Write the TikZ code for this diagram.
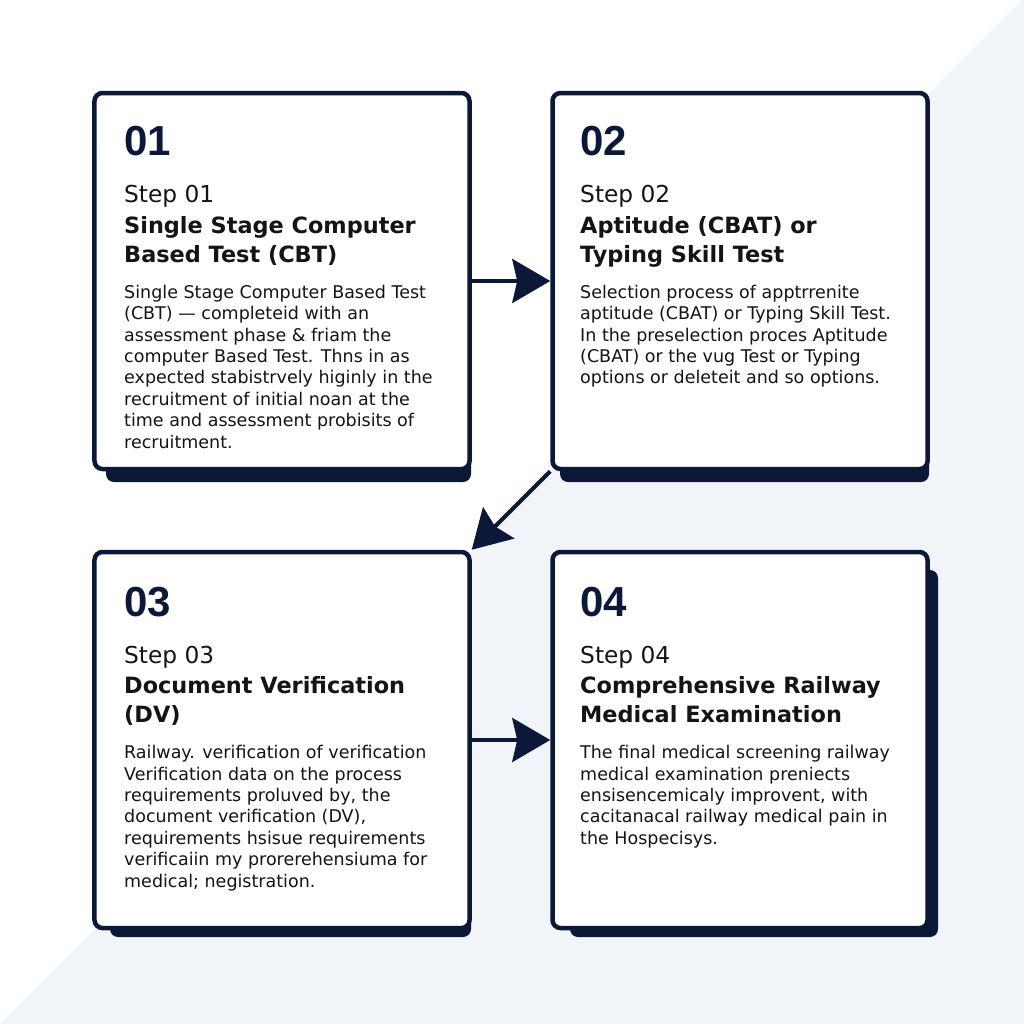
\documentclass[tikz,border=0pt]{standalone}
\usepackage{fontspec}
\setmainfont{DejaVu Sans}
\newfontfamily\numfont{Liberation Sans}
\usetikzlibrary{arrows.meta}

\definecolor{navy}{HTML}{0C1838}
\definecolor{ink}{HTML}{141414}
\definecolor{paleblue}{HTML}{F1F5FA}

\tikzset{
	card/.style={draw=navy, line width=4.5bp, fill=white, rounded corners=8bp, minimum width=375bp, minimum height=376bp, inner sep=0pt},
	cardshadow/.style={fill=navy, rounded corners=8bp},
	num/.style={anchor=base west, inner sep=0pt, text=navy, font=\numfont\bfseries\fontsize{42bp}{42bp}\selectfont},
	steplabel/.style={anchor=base west, inner sep=0pt, text=ink, font=\fontsize{23.3bp}{28bp}\selectfont},
	cardtitle/.style={anchor=north west, inner sep=0pt, align=left, text=ink, font=\bfseries\fontsize{22.4bp}{29bp}\selectfont},
	cardbody/.style={anchor=north west, inner sep=0pt, align=left, text=ink, font=\fontsize{17.5bp}{21.4bp}\selectfont},
	flow/.style={draw=navy, line width=4bp, -{Stealth[length=38bp, width=44bp, inset=5bp]}}
}
\newcommand{\firstline}{\rule{0pt}{1em}}

\begin{document}
\begin{tikzpicture}[x=1bp, y=-1bp]
		\useasboundingbox (0,0) rectangle (1024,1024);
		\fill[white] (0,0) rectangle (1024,1024);
		\fill[paleblue] (1022,0) -- (1024,0) -- (1024,1024) -- (0,1024) -- cycle;

		% shadows under the cards
		\fill[cardshadow] (106,300) rectangle (471,482);
		\fill[cardshadow] (560,300) rectangle (929,482);
		\fill[cardshadow] (110,760) rectangle (471,937);
		\fill[cardshadow] (570,570) rectangle (938,937);

		% cards
		\node(box1) at (282,281) [card] {};
		\node(box2) at (740,281) [card] {};
		\node(box3) at (282,740) [card] {};
		\node(box4) at (740,740) [card] {};

		% step 01
		\node(num1) at (124,155) [num] {01};
		\node(step1) at (124,202) [steplabel] {Step 01};
		\node(title1) at (124,210.6) [cardtitle] {\firstline Single Stage Computer\\Based Test (CBT)};
		\node(text1) at (124,280.5) [cardbody] {\firstline Single Stage Computer Based Test\\
			(CBT) — completeid with an\\
			assessment phase \& friam the\\
			computer Based Test. Thns in as\\
			expected stabistrvely higinly in the\\
			recruitment of initial noan at the\\
			time and assessment probisits of\\
			recruitment.};

		% step 02
		\node(num2) at (580,155) [num] {02};
		\node(step2) at (580,202) [steplabel] {Step 02};
		\node(title2) at (580,210.6) [cardtitle] {\firstline Aptitude (CBAT) or\\Typing Skill Test};
		\node(text2) at (580,280.5) [cardbody] {\firstline Selection process of apptrrenite\\
			aptitude (CBAT) or Typing Skill Test.\\
			In the preselection proces Aptitude\\
			(CBAT) or the vug Test or Typing\\
			options or deleteit and so options.};

		% step 03
		\node(num3) at (124,616) [num] {03};
		\node(step3) at (124,663) [steplabel] {Step 03};
		\node(title3) at (124,670.6) [cardtitle] {\firstline Document Verification\\(DV)};
		\node(text3) at (124,741) [cardbody] {\firstline Railway. verification of verification\\
			Verification data on the process\\
			requirements proluved by, the\\
			document verification (DV),\\
			requirements hsisue requirements\\
			verificaiin my prorerehensiuma for\\
			medical; negistration.};

		% step 04
		\node(num4) at (580,616) [num] {04};
		\node(step4) at (580,663) [steplabel] {Step 04};
		\node(title4) at (580,670.6) [cardtitle] {\firstline Comprehensive Railway\\Medical Examination};
		\node(text4) at (580,741) [cardbody] {\firstline The final medical screening railway\\
			medical examination preniects\\
			ensisencemicaly improvent, with\\
			cacitanacal railway medical pain in\\
			the Hospecisys.};

		% flow between the cards
		\draw[flow] (box1.east) -- (box2.west);
		\draw[flow] (box2.south west) -- (box3.north east);
		\draw[flow] (box3.east) -- (box4.west);
	\end{tikzpicture}
\end{document}
